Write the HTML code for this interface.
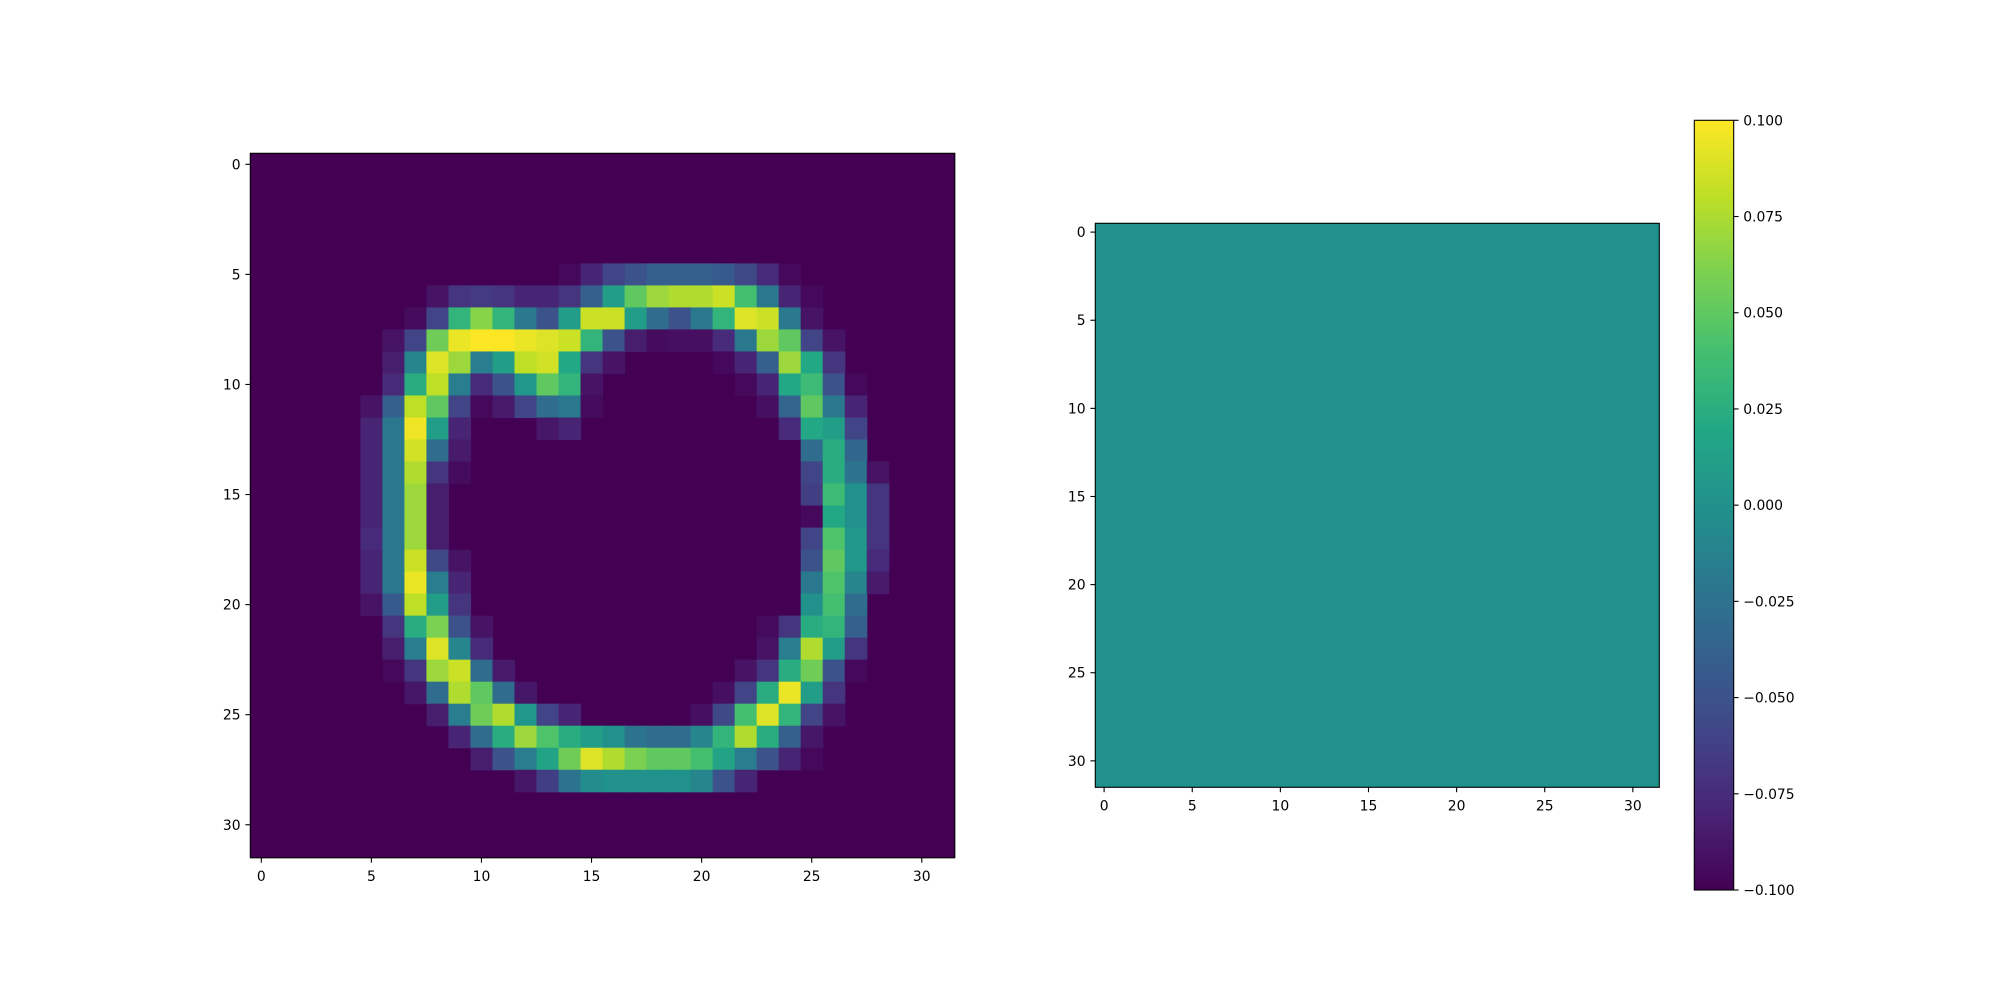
<!DOCTYPE html>
<html><head><meta charset="utf-8"><style>
html,body{margin:0;padding:0;background:#fff;}
svg{display:block;font-family:"DejaVu Sans","Liberation Sans",sans-serif;}
</style></head><body>
<svg id="fig" width="2000" height="1000" viewBox="0 0 2000 1000" xmlns="http://www.w3.org/2000/svg">
<rect width="2000" height="1000" fill="#fff"/>
</svg>
<script>
// Left image data: each row = [startCol, values...] (normalized 0..1), rows 0..31
const leftRows = [
 [],[],[],[],[],
 [14, .02,.1,.2,.25,.3,.3,.3,.28,.22,.12,.02],
 [8, .05,.15,.17,.15,.1,.1,.15,.3,.55,.75,.85,.88,.88,.92,.7,.4,.1,.02],
 [7, .03,.2,.65,.82,.65,.4,.25,.55,.92,.92,.55,.35,.25,.4,.65,.95,.92,.4,.05],
 [6, .05,.2,.78,.97,1,1,.97,.95,.92,.65,.25,.08,.03,.04,.04,.12,.4,.85,.75,.2,.05],
 [6, .08,.45,.95,.85,.42,.55,.9,.93,.6,.15,.05,0,0,0,0,.02,.1,.3,.85,.6,.15],
 [6, .12,.62,.9,.42,.12,.25,.52,.75,.65,.05,0,0,0,0,0,0,.02,.1,.6,.68,.25,.02],
 [5, .05,.3,.9,.75,.2,.02,.07,.2,.35,.4,.03,0,0,0,0,0,0,0,.04,.32,.75,.4,.1],
 [5, .1,.4,.98,.55,.1,0,0,0,.06,.1,0,0,0,0,0,0,0,0,0,.12,.6,.55,.2],
 [5, .1,.4,.93,.35,.07,0,0,0,0,0,0,0,0,0,0,0,0,0,0,0,.35,.62,.33],
 [5, .1,.4,.88,.15,.03,0,0,0,0,0,0,0,0,0,0,0,0,0,0,0,.2,.62,.38,.05],
 [5, .1,.4,.85,.08,0,0,0,0,0,0,0,0,0,0,0,0,0,0,0,0,.18,.68,.5,.15],
 [5, .1,.4,.85,.08,0,0,0,0,0,0,0,0,0,0,0,0,0,0,0,0,.02,.6,.5,.15],
 [5, .12,.4,.85,.08,0,0,0,0,0,0,0,0,0,0,0,0,0,0,0,0,.2,.72,.52,.15],
 [5, .1,.4,.92,.22,.05,0,0,0,0,0,0,0,0,0,0,0,0,0,0,0,.25,.75,.52,.12],
 [5, .1,.4,.97,.42,.1,0,0,0,0,0,0,0,0,0,0,0,0,0,0,0,.4,.72,.45,.07],
 [5, .05,.28,.9,.55,.15,0,0,0,0,0,0,0,0,0,0,0,0,0,0,0,.5,.7,.35],
 [6, .15,.62,.8,.25,.05,0,0,0,0,0,0,0,0,0,0,0,0,.03,.15,.62,.65,.3],
 [6, .08,.42,.95,.45,.12,0,0,0,0,0,0,0,0,0,0,0,0,.05,.42,.88,.55,.15],
 [6, .02,.15,.85,.92,.35,.07,0,0,0,0,0,0,0,0,0,0,.05,.15,.62,.78,.25,.02],
 [7, .06,.35,.88,.75,.35,.06,0,0,0,0,0,0,0,0,.04,.2,.62,.97,.55,.15],
 [8, .08,.42,.78,.88,.52,.2,.1,0,0,0,0,0,.04,.22,.7,.95,.65,.2,.05],
 [9, .1,.35,.62,.85,.72,.62,.55,.5,.38,.35,.35,.45,.65,.88,.62,.3,.06],
 [10, .08,.25,.42,.58,.78,.95,.88,.8,.75,.75,.7,.58,.42,.25,.1,.02],
 [12, .06,.18,.38,.48,.5,.5,.5,.5,.45,.25,.1],
 [],[],[]
];
const rightValue = 0.0;
const colorbarTicks = [-0.1,-0.075,-0.05,-0.025,0,0.025,0.05,0.075,0.1];
const colorbarLabels = ["−0.100","−0.075","−0.050","−0.025","0.000","0.025","0.050","0.075","0.100"];
const axisTicks = [0,5,10,15,20,25,30];

const VIR=[[68,1,84],[72,36,117],[65,68,135],[53,95,141],[42,120,142],[33,145,140],[34,168,132],[68,191,112],[122,209,81],[189,223,38],[253,231,37]];
function viridis(t){t=Math.max(0,Math.min(1,t));const p=t*10,i=Math.min(9,Math.floor(p)),f=p-i;
 const a=VIR[i],b=VIR[i+1];return `rgb(${Math.round(a[0]+(b[0]-a[0])*f)},${Math.round(a[1]+(b[1]-a[1])*f)},${Math.round(a[2]+(b[2]-a[2])*f)})`;}
const NS="http://www.w3.org/2000/svg", svg=document.getElementById('fig');
function mk(tag,attrs,parent){const e=document.createElementNS(NS,tag);for(const k in attrs)e.setAttribute(k,attrs[k]);(parent||svg).appendChild(e);return e;}

function drawAxes(x0,y0,size,name,cellFill){
 const g=mk('g',{});
 
 
 const cell=size/32;
 const sx=v=>x0+(v+0.5)*cell, sy=v=>y0+(v+0.5)*cell;
 cellFill(g,cell,sx,sy);
 const fr=mk('rect',{x:x0,y:y0,width:size,height:size,fill:'none',stroke:'#000','stroke-width':1.1},g);
 
 
 axisTicks.forEach(t=>{
  const x=sx(t), y=sy(t);
  mk('line',{x1:x,y1:y0+size,x2:x,y2:y0+size+4.9,stroke:'#000','stroke-width':1.1},g);
  const tx=mk('text',{x:x,y:y0+size+23,'font-size':13.9,'text-anchor':'middle',fill:'#000'},g);
  tx.textContent=t;
  
  
  mk('line',{x1:x0,y1:y,x2:x0-4.9,y2:y,stroke:'#000','stroke-width':1.1},g);
  const ty=mk('text',{x:x0-9.7,y:y+5,'font-size':13.9,'text-anchor':'end',fill:'#000'},g);
  ty.textContent=t;
  
  
 });
}

// Left heatmap
drawAxes(250.3,153.3,704.5,'left-heatmap',(g,cell,sx,sy)=>{
 mk('rect',{x:250.3,y:153.3,width:704.5,height:704.5,fill:viridis(0)},g);
 leftRows.forEach((row,r)=>{
  if(!row.length)return;
  const start=row[0];
  for(let k=1;k<row.length;k++){
   const v=row[k]; if(v<=0)continue;
   const c=start+k-1;
   const rc=mk('rect',{x:sx(c)-cell/2,y:sy(r)-cell/2,width:cell+0.6,height:cell+0.6,fill:viridis(v)},g);
   
   
  }
 });
});

// Right heatmap (uniform)
drawAxes(1095.3,223.3,564,'right-heatmap',(g,cell,sx,sy)=>{
 const t=(rightValue-(-0.1))/0.2;
 const rc=mk('rect',{x:1095.3,y:223.3,width:564,height:564,fill:viridis(t)},g);
 
 
});

// Colorbar
(function(){
 const cx=1694.3,cy=120.3,cw=39.4,ch=769.7;
 const g=mk('g',{});
 
 
 const defs=mk('defs',{},g);
 const lg=mk('linearGradient',{id:'vg',x1:0,y1:1,x2:0,y2:0},defs);
 for(let i=0;i<=20;i++){mk('stop',{offset:i/20,'stop-color':viridis(i/20)},lg);}
 mk('rect',{x:cx,y:cy,width:cw,height:ch,fill:'url(#vg)',stroke:'#000','stroke-width':1.1},g);
 const vy=v=>cy+ch*(1-(v+0.1)/0.2);
 colorbarTicks.forEach((v,i)=>{
  const y=vy(v);
  mk('line',{x1:cx+cw,y1:y,x2:cx+cw+4.9,y2:y,stroke:'#000','stroke-width':1.1},g);
  const t=mk('text',{x:cx+cw+9.5,y:y+5,'font-size':13.9,fill:'#000'},g);
  t.textContent=colorbarLabels[i];
  
  
 });
})();
</script>
</body></html>
